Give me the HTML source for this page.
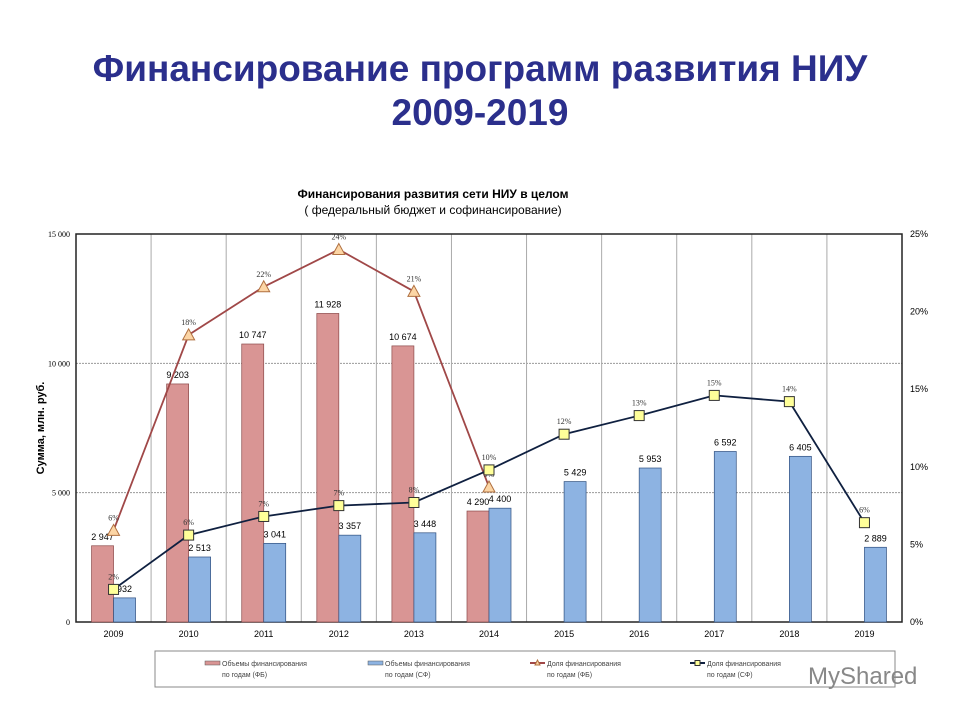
<!DOCTYPE html>
<html><head><meta charset="utf-8"><style>
body{margin:0;background:#fff;width:960px;height:720px;overflow:hidden;font-family:"Liberation Sans",sans-serif}
</style></head><body>
<div style="position:absolute;left:0;top:47px;width:960px;text-align:center;color:#2b2f8c;font-weight:bold;font-size:37px;line-height:44px">Финансирование программ развития НИУ<br>2009-2019</div>
<svg id="c" width="960" height="720" style="position:absolute;left:0;top:0"></svg>
<script>
const years=["2009","2010","2011","2012","2013","2014","2015","2016","2017","2018","2019"];
const fbValues=[2947,9203,10747,11928,10674,4290,null,null,null,null,null];
const sfValues=[932,2513,3041,3357,3448,4400,5429,5953,6592,6405,2889];
const fbShare=[5.9,18.5,21.6,24.0,21.3,8.7,null,null,null,null,null];
const fbShareLabels=["6%","18%","22%","24%","21%","9%"];
const sfShare=[2.1,5.6,6.8,7.5,7.7,9.8,12.1,13.3,14.6,14.2,6.4];
const sfShareLabels=["2%","6%","7%","7%","8%","10%","12%","13%","15%","14%","6%"];
const leftTicks=[0,5000,10000,15000];
const leftTickLabels=["0","5 000","10 000","15 000"];
const rightTicks=[0,5,10,15,20,25];
const L=76,R=902,T=234,B=622;
const svg=document.getElementById('c');
const NS='http://www.w3.org/2000/svg';
function el(t,a,p){const e=document.createElementNS(NS,t);for(const k in a)e.setAttribute(k,a[k]);(p||svg).appendChild(e);return e;}
const bw=(R-L)/years.length;
const xc=i=>L+bw*(i+0.5);
const yL=v=>B-v/15000*(B-T);
const yR=v=>B-v/25*(B-T);
function fmt(v){return String(v).replace(/\B(?=(\d{3})+$)/g,' ');}
let t;
t=el('text',{x:433,y:198,'text-anchor':'middle','font-size':12,'font-weight':'bold'});t.textContent='Финансирования развития сети НИУ в целом';

t=el('text',{x:433,y:214,'text-anchor':'middle','font-size':12});t.textContent='( федеральный бюджет и софинансирование)';

leftTicks.forEach((v,i)=>{
 if(v>0&&v<15000){const g=el('line',{x1:L,x2:R,y1:yL(v),y2:yL(v),stroke:'#999','stroke-dasharray':'2,1'});}
 const tx=el('text',{x:L-6,y:yL(v)+3,'text-anchor':'end','font-size':8,'font-family':'Liberation Serif'});tx.textContent=leftTickLabels[i];
 
});
for(let i=1;i<years.length;i++){const g=el('line',{x1:L+bw*i,x2:L+bw*i,y1:T,y2:B,stroke:'#aaa'});}
el('rect',{x:L,y:T,width:R-L,height:B-T,fill:'none',stroke:'#222','stroke-width':1.5});
rightTicks.forEach(v=>{const tx=el('text',{x:R+8,y:yR(v)+3,'font-size':9});tx.textContent=v+'%';
 });
years.forEach((y,i)=>{const tx=el('text',{x:xc(i),y:B+15,'text-anchor':'middle','font-size':9});tx.textContent=y;
 });
t=el('text',{x:0,y:0,transform:'translate(44,428) rotate(-90)','text-anchor':'middle','font-size':11,'font-weight':'bold'});t.textContent='Сумма, млн. руб.';

const w=22;
fbValues.forEach((v,i)=>{if(v==null)return;
 const r=el('rect',{x:xc(i)-w,y:yL(v),width:w,height:B-yL(v),fill:'#d99594',stroke:'#8b4a4a','stroke-width':0.7});
 
 const tx=el('text',{x:xc(i)-w/2,y:yL(v)-6,'text-anchor':'middle','font-size':9});tx.textContent=fmt(v);
 });
sfValues.forEach((v,i)=>{
 const r=el('rect',{x:xc(i),y:yL(v),width:w,height:B-yL(v),fill:'#8db3e2',stroke:'#2f4f7f','stroke-width':0.7});
 
 const tx=el('text',{x:xc(i)+w/2,y:yL(v)-6,'text-anchor':'middle','font-size':9});tx.textContent=fmt(v);
 });
function line(vals,color,name){let d='';vals.forEach((v,i)=>{if(v==null)return;d+=(d?'L':'M')+xc(i)+','+yR(v);});
 const p=el('path',{d:d,fill:'none',stroke:color,'stroke-width':1.8});}
line(fbShare,'#a04848','line-fb-share');
line(sfShare,'#0f2040','line-sf-share');
fbShare.forEach((v,i)=>{if(v==null)return;const x=xc(i),y=yR(v);
 const m=el('polygon',{points:`${x},${y-6} ${x-6},${y+5} ${x+6},${y+5}`,fill:'#fcd5a5',stroke:'#b07040'});
 
 const tx=el('text',{x:x,y:y-10,'text-anchor':'middle','font-size':8,'font-family':'Liberation Serif',fill:'#333'});tx.textContent=fbShareLabels[i];
 });
sfShare.forEach((v,i)=>{const x=xc(i),y=yR(v);
 const m=el('rect',{x:x-5,y:y-5,width:10,height:10,fill:'#ffff99',stroke:'#333'});
 
 const tx=el('text',{x:x,y:y-10,'text-anchor':'middle','font-size':8,'font-family':'Liberation Serif',fill:'#333'});tx.textContent=sfShareLabels[i];
 });
const lg=el('rect',{x:155,y:651,width:740,height:36,fill:'#fff',stroke:'#888'});

const leg=[["Объемы финансирования","по годам (ФБ)",205,'bar','#d99594'],["Объемы финансирования","по годам (СФ)",368,'bar','#8db3e2'],["Доля финансирования","по годам (ФБ)",530,'tri','#a04848'],["Доля финансирования","по годам (СФ)",690,'sq','#0f2040']];
leg.forEach(e=>{const x=e[2];
 if(e[3]=='bar'){el('rect',{x:x,y:661,width:15,height:4,fill:e[4],stroke:'#555','stroke-width':0.5});}
 else{el('line',{x1:x,x2:x+15,y1:663,y2:663,stroke:e[4],'stroke-width':2});
  if(e[3]=='tri')el('polygon',{points:`${x+7.5},660 ${x+5},665 ${x+10},665`,fill:'#fcd5a5',stroke:'#b07040'});
  else el('rect',{x:x+5,y:660.5,width:5,height:5,fill:'#ffff99',stroke:'#333'});}
 const tx=el('text',{x:x+17,y:666,'font-size':7,fill:'#444'});tx.textContent=e[0];
 
 const t2=el('text',{x:x+17,y:677,'font-size':7,fill:'#444'});t2.textContent=e[1];});
t=el('text',{x:808,y:684,'font-size':24,fill:'#888'});t.textContent='MyShared';

</script>
</body></html>
